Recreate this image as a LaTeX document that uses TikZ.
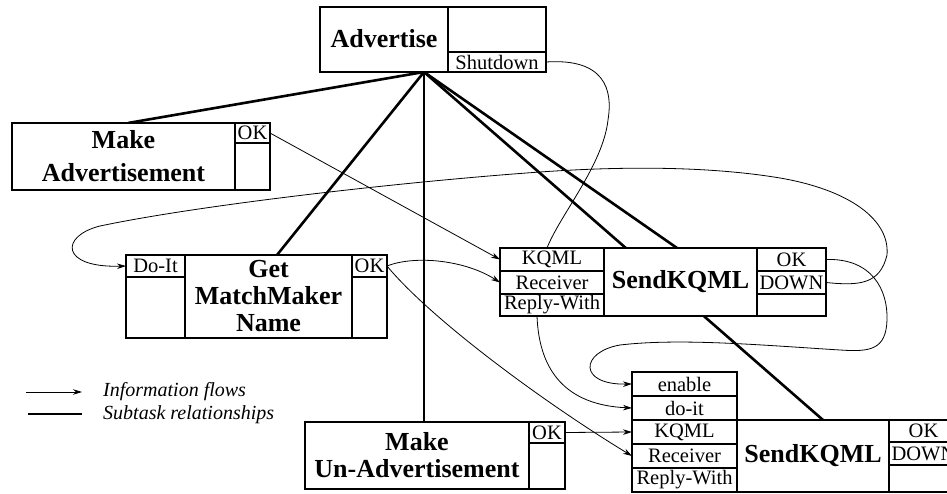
\documentclass[tikz,border=0pt]{standalone}
\usepackage{fontspec}
\setmainfont{Liberation Serif}
\usetikzlibrary{arrows.meta,calc,backgrounds}

\tikzset{
  cell/.style={draw, line width=2.4pt, fill=white, inner sep=0pt, outer sep=0pt,
    font=\fontsize{20.5}{22}\selectfont},
  task/.style={cell, align=center, font=\fontsize{26}{27}\selectfont\bfseries},
  subtask/.style={line width=2.6pt},
  flow/.style={line width=0.8pt, -{Stealth[length=9pt,width=5.5pt]}},
  plainflow/.style={line width=0.8pt},
  legend/.style={anchor=base west, inner sep=0pt, font=\fontsize{20}{22}\selectfont\itshape},
}

\begin{document}
\begin{tikzpicture}[x=1pt,y=-1pt]
\useasboundingbox (0,0) rectangle (947,494);
\clip (0,0) rectangle (947,494);

% Advertise
\node[task, minimum width=128pt, minimum height=65pt] (adv) at (384,39.5) {\raisebox{3pt}{Advertise}};
\node[cell, minimum width=98pt, minimum height=45pt] (advspare) at (497,29.5) {};
\node[cell, minimum width=98pt, minimum height=20pt] (advshut) at (497,62) {Shutdown};

% Make Advertisement
\node[task, minimum width=223pt, minimum height=67pt, font=\fontsize{26}{33}\selectfont\bfseries]
  (madv) at (123.5,156.5) {Make\\Advertisement};
\node[cell, minimum width=35pt, minimum height=20pt] (madvok) at (252.5,133) {OK};
\node[cell, minimum width=35pt, minimum height=47pt] (madvspare) at (252.5,166.5) {};

% Get MatchMaker Name
\node[cell, minimum width=59pt, minimum height=22pt] (gmmdoit) at (155.5,266) {Do-It};
\node[cell, minimum width=59pt, minimum height=61pt] (gmmspareL) at (155.5,307.5) {};
\node[task, minimum width=167pt, minimum height=83pt] (gmm) at (268.5,296.5) {Get\\MatchMaker\\Name};
\node[cell, minimum width=35pt, minimum height=22pt] (gmmok) at (369.5,266) {OK};
\node[cell, minimum width=35pt, minimum height=61pt] (gmmspareR) at (369.5,307.5) {};

% SendKQML (upper)
\node[cell, minimum width=104pt, minimum height=23pt] (sk1kqml) at (552,259.5) {KQML};
\node[cell, minimum width=104pt, minimum height=23pt] (sk1rec) at (552,282.5) {Receiver};
\node[cell, minimum width=104pt, minimum height=22pt] (sk1rep) at (552,305) {Reply-With};
\node[task, minimum width=153pt, minimum height=68pt] (sk1) at (680.5,282) {SendKQML};
\node[cell, minimum width=69pt, minimum height=23pt] (sk1ok) at (791.5,259.5) {OK};
\node[cell, minimum width=69pt, minimum height=23pt] (sk1down) at (791.5,282.5) {DOWN};
\node[cell, minimum width=69pt, minimum height=22pt] (sk1spare) at (791.5,305) {};

% SendKQML (lower)
\node[cell, minimum width=105pt, minimum height=24pt] (sk2enable) at (684.5,384) {enable};
\node[cell, minimum width=105pt, minimum height=24pt] (sk2doit) at (684.5,408) {do-it};
\node[cell, minimum width=105pt, minimum height=24pt] (sk2kqml) at (684.5,432) {KQML};
\node[cell, minimum width=105pt, minimum height=24pt] (sk2rec) at (684.5,456) {Receiver};
\node[cell, minimum width=105pt, minimum height=24pt] (sk2rep) at (684.5,480) {Reply-With};
\node[task, minimum width=152pt, minimum height=72pt] (sk2) at (813,456) {SendKQML};
\node[cell, minimum width=69pt, minimum height=22pt] (sk2ok) at (923.5,431) {OK};
\node[cell, minimum width=69pt, minimum height=23pt] (sk2down) at (923.5,453.5) {DOWN};
\node[cell, minimum width=69pt, minimum height=27pt] (sk2spare) at (923.5,478.5) {};

% Make Un-Advertisement
\node[task, minimum width=224pt, minimum height=67pt] (mua) at (417,455.5) {Make\\Un-Advertisement};
\node[cell, minimum width=36pt, minimum height=21pt] (muaok) at (547,432.5) {OK};
\node[cell, minimum width=36pt, minimum height=46pt] (muaspare) at (547,466) {};

% Subtask relationships, behind the boxes
\begin{scope}[on background layer]
  \coordinate (apex) at (424,72);
  \draw[subtask] (apex) -- ($(madv.north)+(4.5,0)$);
  \draw[subtask] (apex) -- ($(gmm.north)+(8.5,0)$);
  \draw[subtask] (apex) -- (apex |- mua.north);
  \draw[subtask] (apex) -- ($(sk1.north)+(-3.5,0)$);
  \draw[subtask] (apex) -- ($(sk2.north)+(10,0)$);
\end{scope}

% Information flows
\draw[plainflow] (advshut.east) .. controls (605,58) and (613,90) .. (608,120)
  .. controls (603,165) and (560,215) .. ($(sk1kqml.north)+(-5,0)$);
\draw[flow] (madvok.east) -- (sk1kqml.west);
\draw[flow] (gmmok.east) .. controls (415,255) and (465,260) .. (sk1rec.west);
\draw[flow] (gmmok.east) .. controls (430,318) and (540,400) .. (sk2rec.west);
\draw[flow] (muaok.east) -- (sk2kqml.west);
\draw[flow] ($(sk1rep.south)+(-15,0)$) .. controls (539,370) and (565,405) .. (sk2doit.west);
\draw[flow] (sk1ok.east) .. controls (872,258) and (888,290) .. (887,320)
  .. controls (886,350) and (870,352) .. (840,350)
  .. controls (760,345) and (680,338) .. (620,345)
  .. controls (580,352) and (578,385) .. (sk2enable.west);
\draw[flow] (sk1down.east) .. controls (860,286) and (880,284) .. (887,255)
  .. controls (890,220) and (850,190) .. (780,178)
  .. controls (720,168) and (640,165) .. (540,172)
  .. controls (400,182) and (200,205) .. (100,226)
  .. controls (60,236) and (60,268) .. (gmmdoit.west);

% Legend
\node[legend] (legflow) at (103,396) {Information flows};
\node[legend] (legsub) at (103,419) {Subtask relationships};
\coordinate (legflowA) at (26,392);
\coordinate (legflowB) at (82,392);
\coordinate (legsubA) at (28,414);
\coordinate (legsubB) at (82,414);
\draw[flow] (legflowA) -- (legflowB);
\draw[subtask] (legsubA) -- (legsubB);
\end{tikzpicture}
\end{document}
